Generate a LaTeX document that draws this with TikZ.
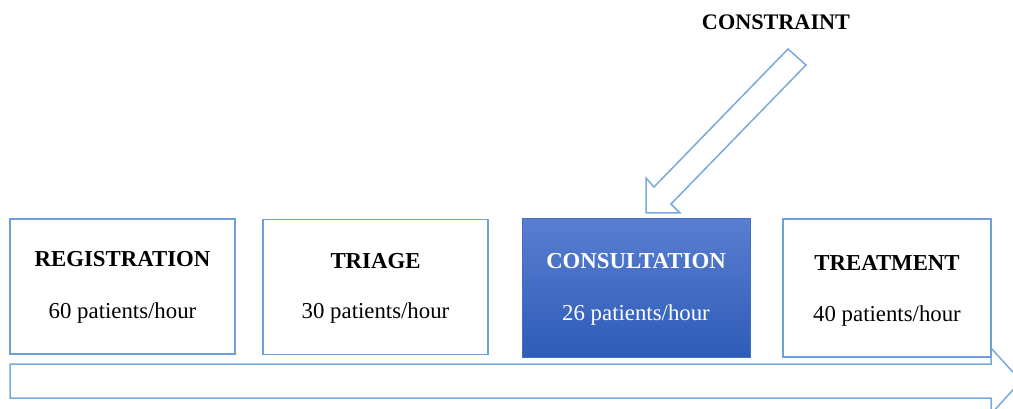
\documentclass[tikz,border=0pt]{standalone}
\usepackage{fontspec}
\setmainfont{Liberation Serif}
\definecolor{boxline}{RGB}{110,160,215}
\definecolor{arrowline}{RGB}{120,170,220}
\definecolor{contop}{RGB}{88,126,208}
\definecolor{conbot}{RGB}{46,92,184}
\definecolor{conline}{RGB}{70,110,190}
\begin{document}
\begin{tikzpicture}[x=1pt,y=-1pt,
  box/.style={draw=boxline, line width=1.5pt, fill=white, minimum width=#1, minimum height=135pt, inner sep=0pt},
  title/.style={font=\fontsize{22.8}{27}\selectfont\bfseries, text=black},
  rate/.style={font=\fontsize{22.8}{27}\selectfont, text=black},
  hollow/.style={draw=arrowline, line width=1.5pt, fill=white, line join=miter}]
\useasboundingbox (0,0) rectangle (1013,409);
% main flow arrow
\draw[hollow] (10,364) -- (991,364) -- (991,348) -- (1021,381) -- (991,414) -- (991,398) -- (10,398) -- cycle;
% boxes
\node[box=225pt] (reg) at (122.5,286.5) {};
\node[box=225pt] (tri) at (375.5,287) {};
\node[draw=conline, line width=1pt, minimum width=228pt, minimum height=138pt, inner sep=0pt, top color=contop, bottom color=conbot] (con) at (636,288) {};
\node[box=208pt, minimum height=138pt] (tre) at (887,288) {};
% texts
\node[title] (regt) at (reg.center |- 0,259) {REGISTRATION};
\node[rate] (regr) at (reg.center |- 0,313) {60 patients/hour};
\node[title] (trit) at (tri.center |- 0,261) {TRIAGE};
\node[rate] (trir) at (tri.center |- 0,313) {30 patients/hour};
\node[title, text=white] (cont) at (con.center |- 0,261) {CONSULTATION};
\node[rate, text=white] (conr) at (con.center |- 0,315) {26 patients/hour};
\node[title] (tret) at (tre.center |- 0,263) {TREATMENT};
\node[rate] (trer) at (tre.center |- 0,316) {40 patients/hour};
% constraint
\node[title, font=\fontsize{22.2}{26}\selectfont\bfseries] (cstr) at (776,22) {CONSTRAINT};
\draw[hollow] (788,49) -- (806,65) -- (671,204) -- (680,213) -- (646,213) -- (646,178) -- (654,187) -- cycle;
\end{tikzpicture}
\end{document}
